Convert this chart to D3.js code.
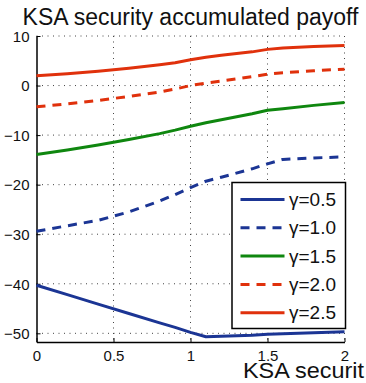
<!DOCTYPE html>
<html>
<head>
<meta charset="utf-8">
<script src="https://cdn.jsdelivr.net/npm/d3@7"></script>
<style>
  html, body { margin: 0; padding: 0; background: #fff; }
  svg { display: block; font-family: "Liberation Sans", Arial, Helvetica, sans-serif; }
</style>
</head>
<body>
<svg id="chart" width="366" height="383"></svg>
<script>
// KSA security level (x) shared by every series
const xValues = [0, 0.2, 0.4, 0.6, 0.8, 0.9, 1.0, 1.1, 1.2, 1.4, 1.5, 1.6, 1.8, 2.0];

// accumulated payoff for each gamma
const gamma05 = [-40.3, -42.2, -44.1, -46.0, -47.9, -48.8, -49.8, -50.7, -50.6, -50.4, -50.2, -50.1, -49.9, -49.7];
const gamma10 = [-29.4, -28.3, -27.2, -25.5, -23.3, -22.0, -20.6, -19.3, -18.5, -16.8, -15.8, -14.9, -14.6, -14.4];
const gamma15 = [-13.9, -13.0, -12.0, -10.9, -9.7, -9.0, -8.2, -7.5, -6.9, -5.7, -5.0, -4.7, -4.0, -3.4];
const gamma20 = [-4.3, -3.7, -3.0, -2.2, -1.3, -0.7, 0.0, 0.5, 0.9, 1.8, 2.3, 2.6, 3.0, 3.3];
const gamma25 = [2.0, 2.4, 2.9, 3.5, 4.2, 4.6, 5.2, 5.7, 6.1, 6.8, 7.3, 7.6, 7.9, 8.1];

const seriesNames = ["γ=0.5", "γ=1.0", "γ=1.5", "γ=2.0", "γ=2.5"];
const xTicks = [0, 0.5, 1, 1.5, 2];
const yTicks = [10, 0, -10, -20, -30, -40, -50];

const titleText = "KSA security accumulated payoff";
const xLabelText = "KSA securit";

const BLUE = "#1b3594", GREEN = "#0f870f", RED = "#e0310c";
const series = [
  { name: seriesNames[0], values: gamma05, color: BLUE, dash: null },
  { name: seriesNames[1], values: gamma10, color: BLUE, dash: "9,7" },
  { name: seriesNames[2], values: gamma15, color: GREEN, dash: null },
  { name: seriesNames[3], values: gamma20, color: RED, dash: "9,7" },
  { name: seriesNames[4], values: gamma25, color: RED, dash: null }
];

const svg = d3.select("#chart");
const plotLeft = 36.5, plotRight = 344.5, plotTop = 36, plotBottom = 342;

const x = d3.scaleLinear().domain([0, 2]).range([plotLeft, plotRight]);
const y = d3.scaleLinear().domain([-51.75, 10]).range([plotBottom, plotTop]);

// dotted grid
const grid = svg.append("g").attr("stroke", "#444").attr("stroke-width", 1).attr("stroke-dasharray", "1,4.5");
xTicks.forEach(t => {
  if (t === 0) return;
  grid.append("line").attr("x1", x(t)).attr("x2", x(t)).attr("y1", plotTop).attr("y2", plotBottom);
});
yTicks.forEach(t => {
  grid.append("line").attr("x1", plotLeft).attr("x2", plotRight).attr("y1", y(t)).attr("y2", y(t));
});

// axes with inward ticks
const yAxis = d3.axisLeft(y).tickValues(yTicks).tickSizeInner(-4).tickSizeOuter(0).tickPadding(7)
  .tickFormat(d => d < 0 ? "\u2212" + Math.abs(d) : String(d));
const xAxis = d3.axisBottom(x).tickValues(xTicks).tickSizeInner(-4).tickSizeOuter(0).tickPadding(8)
  .tickFormat(d => String(d));

const gy = svg.append("g").attr("transform", `translate(${plotLeft},0)`).call(yAxis);
const gx = svg.append("g").attr("transform", `translate(0,${plotBottom})`).call(xAxis);
[gx, gy].forEach(g => {
  g.select(".domain").attr("stroke", "#000").attr("stroke-width", 1.5);
  g.selectAll(".tick line").attr("stroke", "#000").attr("stroke-width", 1);
  g.selectAll(".tick text").attr("fill", "#111").attr("font-size", 15)
    .attr("font-family", "'Liberation Sans', Arial, sans-serif");
});
gy.selectAll(".tick text").attr("dy", "0.35em");

// series lines
const line = d3.line().x((d, i) => x(xValues[i])).y(d => y(d));
series.forEach(s => {
  svg.append("path")
    .datum(s.values)
    .attr("d", line)
    .attr("fill", "none")
    .attr("stroke", s.color)
    .attr("stroke-width", 3)
    .attr("stroke-linejoin", "round")
    .attr("stroke-dasharray", s.dash);
});

// title and x label
svg.append("text").attr("x", (plotLeft + plotRight) / 2).attr("y", 25)
  .attr("text-anchor", "middle").attr("font-size", 23).attr("fill", "#111").text(titleText);
svg.append("text").attr("x", 243).attr("y", 378)
  .attr("font-size", 22).attr("textLength", 121).attr("lengthAdjust", "spacingAndGlyphs")
  .attr("fill", "#111").text(xLabelText);

// legend
const lg = svg.append("g");
lg.append("rect").attr("x", 232).attr("y", 182.5).attr("width", 113.5).attr("height", 146)
  .attr("fill", "#fff").attr("stroke", "#000").attr("stroke-width", 1.5);
series.forEach((s, i) => {
  const cy = 199.5 + i * 28.3;
  lg.append("line").attr("x1", 240.5).attr("x2", 284.5).attr("y1", cy).attr("y2", cy)
    .attr("stroke", s.color).attr("stroke-width", 3).attr("stroke-dasharray", s.dash);
  lg.append("text").attr("x", 289).attr("y", cy).attr("dy", "0.35em")
    .attr("font-size", 19).attr("fill", "#111").text(s.name);
});
</script>
</body>
</html>
